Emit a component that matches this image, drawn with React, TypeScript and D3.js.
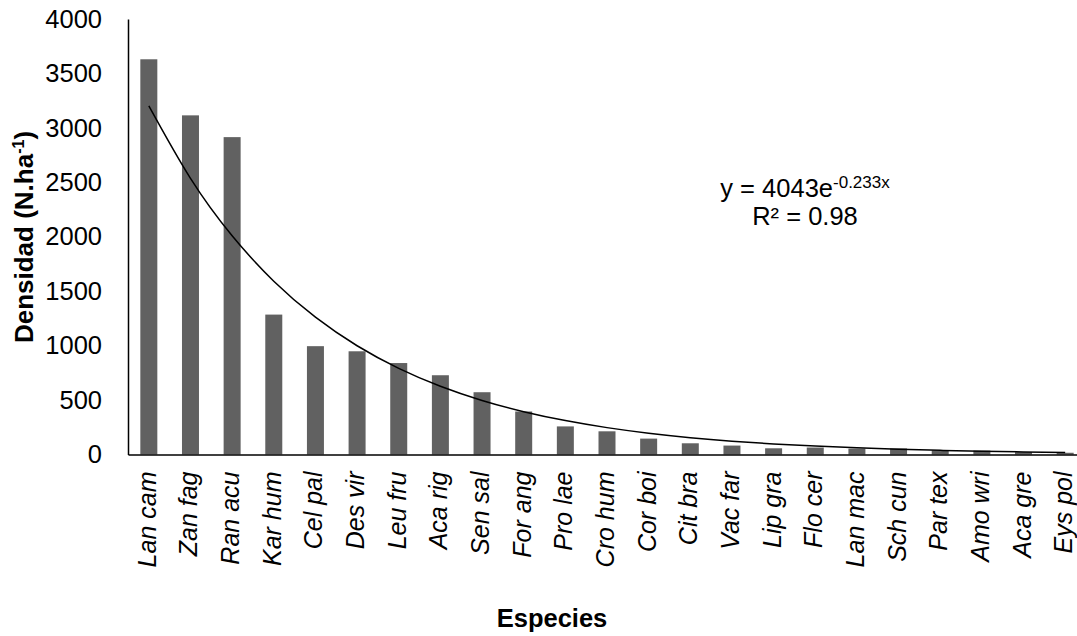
import React, { useRef, useEffect } from "react";
import * as d3 from "d3";

// species (abbreviated) and density values, N.ha-1
const species = [
  "Lan cam", "Zan fag", "Ran acu", "Kar hum", "Cel pal", "Des vir", "Leu fru",
  "Aca rig", "Sen sal", "For ang", "Pro lae", "Cro hum", "Cor boi", "Cit bra",
  "Vac far", "Lip gra", "Flo cer", "Lan mac", "Sch cun", "Par tex", "Amo wri",
  "Aca gre", "Eys pol",
];
const density = [
  3630, 3115, 2915, 1285, 995, 948, 840, 728, 572, 395, 258, 213, 146, 103, 82,
  57, 64, 54, 56, 38, 36, 22, 16,
];
const yTicks = [0, 500, 1000, 1500, 2000, 2500, 3000, 3500, 4000];

// fitted exponential trend shown on the chart: y = a * e^(b x)
const trendA = 4043;
const trendB = -0.233;

const W = 1077;
const H = 636;
const FONT = "'Liberation Sans', Arial, sans-serif";

const App = () => {
  const svgRef = useRef<SVGSVGElement>(null);

  useEffect(() => {
    const svg = d3.select(svgRef.current);
    svg.selectAll("*").remove();

    const margin = { top: 19, left: 128, bottom: 454.5, right: 1086 };

    const x = d3
      .scaleBand()
      .domain(species)
      .range([margin.left, margin.right])
      .paddingInner(0.592)
      .paddingOuter(0.296);

    const y = d3.scaleLinear().domain([0, 4000]).range([margin.bottom, margin.top]);

    // bars
    svg
      .append("g")
      .selectAll("rect")
      .data(species)
      .join("rect")
      .attr("x", (d) => x(d)!)
      .attr("y", (d, i) => y(density[i]))
      .attr("width", x.bandwidth())
      .attr("height", (d, i) => y(0) - y(density[i]))
      .attr("fill", "#616161");

    // axes
    const yAxis = svg
      .append("g")
      .attr("transform", `translate(${margin.left},0)`)
      .call(
        d3
          .axisLeft(y)
          .tickValues(yTicks)
          .tickSize(0)
          .tickPadding(26)
          .tickFormat((d) => String(d))
      );
    yAxis.select(".domain").attr("stroke", "#000").attr("stroke-width", 1.5);
    yAxis
      .selectAll("text")
      .attr("font-family", FONT)
      .attr("font-size", 25.5)
      .attr("fill", "#000");

    const xAxis = svg
      .append("g")
      .attr("transform", `translate(0,${margin.bottom})`)
      .call(d3.axisBottom(x).tickSize(0).tickFormat(() => ""));
    xAxis.select(".domain").attr("stroke", "#000").attr("stroke-width", 1.5);

    // rotated italic category labels
    svg
      .append("g")
      .selectAll("text")
      .data(species)
      .join("text")
      .attr(
        "transform",
        (d) => `translate(${x(d)! + x.bandwidth() / 2 + 7},${margin.bottom + 17}) rotate(-90)`
      )
      .attr("text-anchor", "end")
      .attr("font-family", FONT)
      .attr("font-style", "italic")
      .attr("font-size", 25)
      .attr("fill", "#000")
      .text((d) => d);

    // trend line
    const trend = species.map((d, i) => ({ name: d, v: trendA * Math.exp(trendB * (i + 1)) }));
    const line = d3
      .line<{ name: string; v: number }>()
      .x((d) => x(d.name)! + x.bandwidth() / 2)
      .y((d) => y(d.v))
      .curve(d3.curveNatural);
    svg
      .append("path")
      .datum(trend)
      .attr("d", line)
      .attr("fill", "none")
      .attr("stroke", "#000")
      .attr("stroke-width", 1.5);

    // equation
    const eq = svg
      .append("text")
      .attr("x", 805)
      .attr("y", 197)
      .attr("text-anchor", "middle")
      .attr("font-family", FONT)
      .attr("font-size", 25.5)
      .attr("fill", "#000");
    eq.append("tspan").text("y = 4043e");
    eq.append("tspan").attr("dy", -9).attr("font-size", 17).text("-0.233x");

    svg
      .append("text")
      .attr("x", 805)
      .attr("y", 225)
      .attr("text-anchor", "middle")
      .attr("font-family", FONT)
      .attr("font-size", 25.5)
      .attr("fill", "#000")
      .text("R² = 0.98");

    // axis titles
    svg
      .append("text")
      .attr("x", 552)
      .attr("y", 627)
      .attr("text-anchor", "middle")
      .attr("font-family", FONT)
      .attr("font-weight", "bold")
      .attr("font-size", 25.5)
      .attr("fill", "#000")
      .text("Especies");

    const yt = svg
      .append("text")
      .attr("transform", "translate(33,237) rotate(-90)")
      .attr("text-anchor", "middle")
      .attr("font-family", FONT)
      .attr("font-weight", "bold")
      .attr("font-size", 26)
      .attr("fill", "#000");
    yt.append("tspan").text("Densidad (N.ha");
    yt.append("tspan").attr("dy", -9).attr("font-size", 16).text("-1");
    yt.append("tspan").attr("dy", 9).text(")");
  }, []);

  return (
    <svg
      ref={svgRef}
      width={W}
      height={H}
      style={{ position: "absolute", left: 0, top: 0, background: "#fff" }}
    />
  );
};

export default App;
